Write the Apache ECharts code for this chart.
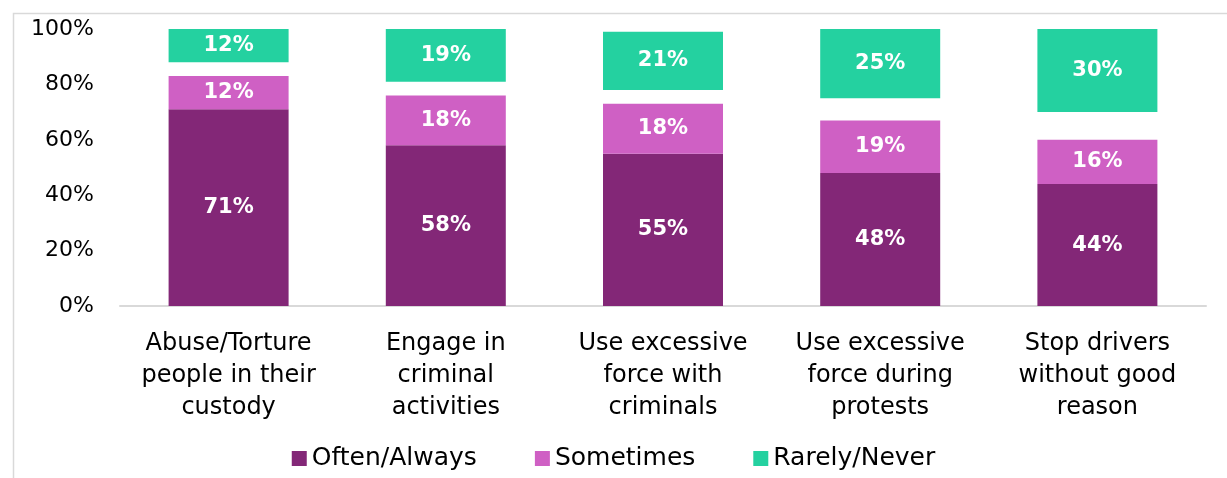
<!DOCTYPE html>
<html>
<head>
<meta charset="utf-8">
<script src="https://cdn.jsdelivr.net/npm/echarts@6/dist/echarts.min.js"></script>
<style>
html,body{margin:0;padding:0;background:#fff;}
#chart{width:1227px;height:478px;}
</style>
</head>
<body>
<div id="chart"></div>
<script>
const categories = [
  "Abuse/Torture\npeople in their\ncustody",
  "Engage in\ncriminal\nactivities",
  "Use excessive\nforce with\ncriminals",
  "Use excessive\nforce during\nprotests",
  "Stop drivers\nwithout good\nreason"
];
const oftenAlways = [71, 58, 55, 48, 44];
const sometimes = [12, 18, 18, 19, 16];
const noAnswerGap = [5, 5, 5, 8, 10];
const rarelyNever = [12, 19, 21, 25, 30];
const yTicks = [0, 20, 40, 60, 80, 100];

const FONT = "DejaVu Sans";
const labelStyle = {
  show: true,
  position: "inside",
  color: "#ffffff",
  fontFamily: FONT,
  fontWeight: "bold",
  fontSize: 21,
  formatter: p => p.value + "%"
};

const chart = echarts.init(document.getElementById("chart"));
chart.setOption({
  animation: false,
  backgroundColor: "#ffffff",
  graphic: [{
    type: "rect",
    left: 11, top: 11,
    shape: { width: 1400, height: 600 },
    style: { fill: "none", stroke: "#d9d9d9", lineWidth: 1.5 },
    silent: true
  }],
  grid: { left: 120, right: 21, top: 29, bottom: 172, containLabel: false },
  legend: {
    data: ["Often/Always", "Sometimes", "Rarely/Never"],
    left: "center",
    top: 441,
    itemWidth: 15,
    itemHeight: 15,
    itemGap: 58,
    icon: "rect",
    textStyle: { fontFamily: FONT, fontSize: 25, color: "#000" }
  },
  xAxis: {
    type: "category",
    data: categories,
    axisLine: { show: true, lineStyle: { color: "#d9d9d9", width: 2 } },
    axisTick: { show: false },
    axisLabel: {
      color: "#000",
      fontFamily: FONT,
      fontSize: 24,
      lineHeight: 32,
      margin: 22,
      interval: 0,
      align: "center"
    }
  },
  yAxis: {
    type: "value",
    min: 0,
    max: 100,
    interval: 20,
    axisLine: { show: false },
    axisTick: { show: false },
    splitLine: { show: false },
    axisLabel: {
      color: "#000",
      fontFamily: FONT,
      fontSize: 22,
      margin: 26,
      formatter: v => yTicks.includes(v) ? v + "%" : ""
    }
  },
  series: [
    {
      name: "Often/Always", type: "bar", stack: "s", barWidth: 120,
      data: oftenAlways,
      itemStyle: { color: "#832777" },
      label: labelStyle
    },
    {
      name: "Sometimes", type: "bar", stack: "s", barWidth: 120,
      data: sometimes,
      itemStyle: { color: "#cf60c4" },
      label: labelStyle
    },
    {
      name: "gap", type: "bar", stack: "s", barWidth: 120,
      data: noAnswerGap,
      itemStyle: { color: "rgba(0,0,0,0)" },
      label: { show: false },
      silent: true
    },
    {
      name: "Rarely/Never", type: "bar", stack: "s", barWidth: 120,
      data: rarelyNever,
      itemStyle: { color: "#24d1a0" },
      label: labelStyle
    }
  ]
});
</script>
</body>
</html>
